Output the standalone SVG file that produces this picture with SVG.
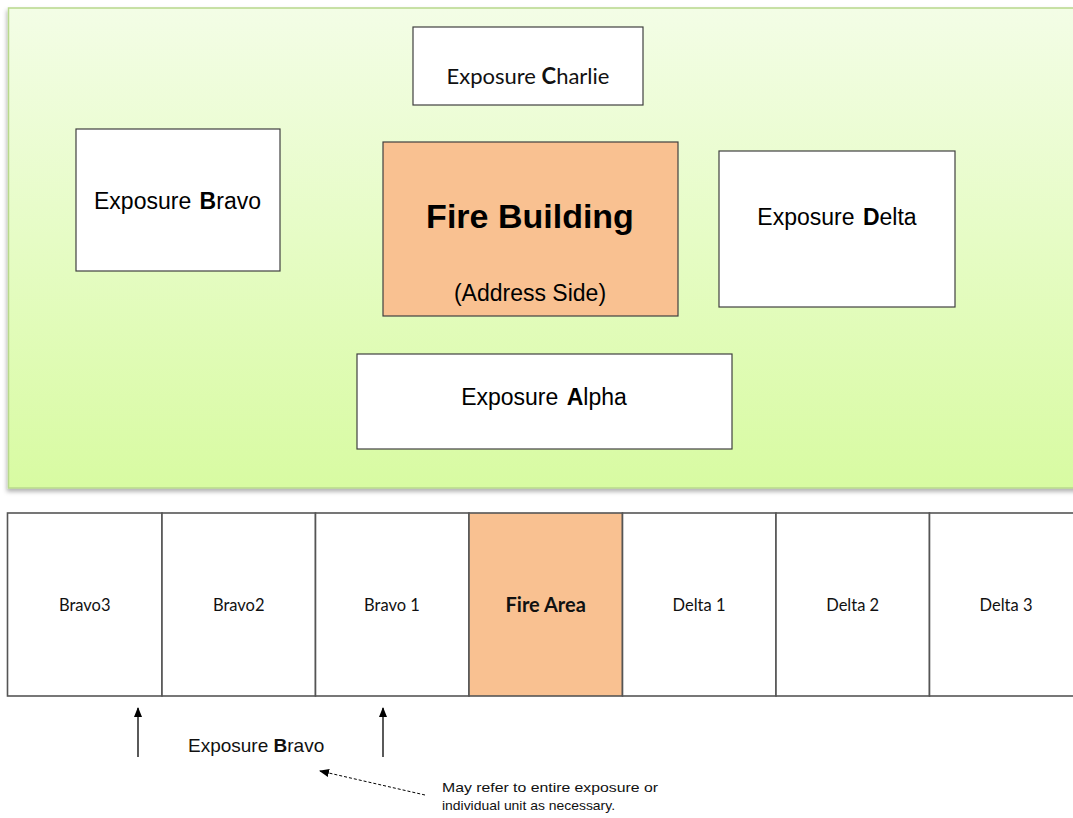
<svg xmlns="http://www.w3.org/2000/svg" width="1073" height="818" viewBox="0 0 1073 818">
  <defs>
    <linearGradient id="lawn" x1="0" y1="0" x2="0" y2="1">
      <stop offset="0" stop-color="#f3fde6"/>
      <stop offset="1" stop-color="#d8fba2"/>
    </linearGradient>
    <filter id="shadow" x="-5%" y="-5%" width="110%" height="115%">
      <feDropShadow dx="-1" dy="3" stdDeviation="2" flood-color="#000" flood-opacity="0.3"/>
    </filter>
    <marker id="head" markerWidth="10" markerHeight="10" refX="9" refY="5" orient="auto" markerUnits="userSpaceOnUse">
      <path d="M0,1 L10,5 L0,9 Z" fill="#000"/>
    </marker>
    <marker id="headSmall" markerWidth="10" markerHeight="8" refX="9" refY="4" orient="auto" markerUnits="userSpaceOnUse">
      <path d="M0,0 L10,4 L0,8 Z" fill="#000"/>
    </marker>
  </defs>
  <style>
    .box { fill: #fff; stroke: #404040; stroke-width: 1.2; }
    .fire { fill: #f9c191; stroke: #404040; stroke-width: 1.2; }
    .lbl { font-family: "Liberation Sans", Arial, sans-serif; font-size: 23px; word-spacing: 2px; fill: #000; text-anchor: middle; }
    .title { font-size: 34px; font-weight: bold; word-spacing: 0; }
    .sub { font-size: 23px; word-spacing: 0; }
    .cal { font-family: Lato, "Liberation Sans", sans-serif; font-size: 22px; fill: #111; text-anchor: middle; }
    .b { font-weight: bold; }
    .cell { fill: #fff; stroke: #555; stroke-width: 1.6; }
    .cellFire { fill: #f9c191; stroke: #555; stroke-width: 1.6; }
    .cellTxt { font-family: Lato, "Liberation Sans", sans-serif; font-size: 16.5px; fill: #111; text-anchor: middle; }
    .cellBold { font-size: 20px; font-weight: bold; }
    .expo { font-family: "Liberation Sans", Arial, sans-serif; font-size: 19px; fill: #111; }
    .note { font-family: "Liberation Sans", Arial, sans-serif; font-size: 13px; fill: #111; }
  </style>

  <rect width="1073" height="818" fill="#fff"/>

  <!-- site plan -->
  <rect id="site" x="8.5" y="8" width="1075" height="480" fill="url(#lawn)" stroke="#b8d88c" stroke-width="1.5" filter="url(#shadow)"/>

  <g id="charlie">
    <rect class="box" x="413" y="27" width="230" height="78"/>
    <text class="cal" x="528" y="84">Exposure <tspan class="b">C</tspan>harlie</text>
  </g>

  <g id="bravo">
    <rect class="box" x="76" y="129" width="204" height="142"/>
    <text class="lbl" x="177.5" y="209">Exposure <tspan class="b">B</tspan>ravo</text>
  </g>

  <g id="fire-building">
    <rect class="fire" x="383" y="142" width="295" height="174"/>
    <text class="lbl title" x="530" y="228">Fire Building</text>
    <text class="lbl sub" x="530" y="301">(Address Side)</text>
  </g>

  <g id="delta">
    <rect class="box" x="719" y="151" width="236" height="156"/>
    <text class="lbl" x="837" y="225">Exposure <tspan class="b">D</tspan>elta</text>
  </g>

  <g id="alpha">
    <rect class="box" x="357" y="354" width="375" height="95"/>
    <text class="lbl" x="544" y="405">Exposure <tspan class="b">A</tspan>lpha</text>
  </g>

  <!-- row of units -->
  <g id="units">
    <g id="bravo3"><rect class="cell" x="7.5" y="513" width="154.5" height="183"/><text class="cellTxt" x="84.7" y="611">Bravo3</text></g>
    <g id="bravo2"><rect class="cell" x="162" y="513" width="153.5" height="183"/><text class="cellTxt" x="238.7" y="611">Bravo2</text></g>
    <g id="bravo1"><rect class="cell" x="315.5" y="513" width="153.5" height="183"/><text class="cellTxt" x="392" y="611">Bravo 1</text></g>
    <g id="fire-area"><rect class="cellFire" x="469" y="513" width="153.5" height="183"/><text class="cellTxt cellBold" x="545.7" y="612">Fire Area</text></g>
    <g id="delta1"><rect class="cell" x="622.5" y="513" width="153.5" height="183"/><text class="cellTxt" x="699" y="611">Delta 1</text></g>
    <g id="delta2"><rect class="cell" x="776" y="513" width="153.5" height="183"/><text class="cellTxt" x="852.7" y="611">Delta 2</text></g>
    <g id="delta3"><rect class="cell" x="929.5" y="513" width="160" height="183"/><text class="cellTxt" x="1006" y="611">Delta 3</text></g>
  </g>

  <!-- connectors -->
  <g id="connectors" stroke="#000" fill="none">
    <line x1="138" y1="757" x2="138" y2="708" stroke-width="1.3" marker-end="url(#head)"/>
    <line x1="383" y1="757" x2="383" y2="708" stroke-width="1.3" marker-end="url(#head)"/>
    <line x1="425" y1="795" x2="320" y2="771" stroke-width="1" stroke-dasharray="3,2" marker-end="url(#headSmall)"/>
  </g>

  <g id="exposure-bravo-label">
    <text class="expo" x="188" y="752">Exposure <tspan class="b">B</tspan>ravo</text>
  </g>

  <g id="note">
    <text class="note" x="442" y="792" textLength="216" lengthAdjust="spacingAndGlyphs">May refer to entire exposure or</text>
    <text class="note" x="442" y="810" textLength="173" lengthAdjust="spacingAndGlyphs">individual unit as necessary.</text>
  </g>
</svg>
